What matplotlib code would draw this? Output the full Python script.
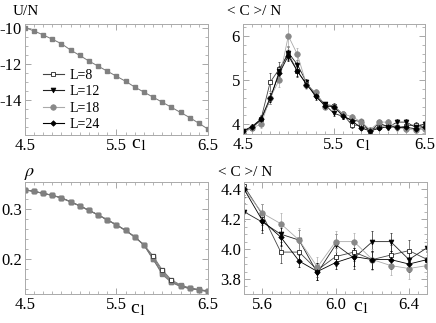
import matplotlib
matplotlib.use("Agg")
import matplotlib.pyplot as plt
from matplotlib.ticker import MultipleLocator, FixedLocator
from matplotlib.lines import Line2D

plt.rcParams['font.family'] = ['Liberation Serif', 'DejaVu Serif']
plt.rcParams['mathtext.fontset'] = 'stix'
plt.rcParams['font.size'] = 10

# coupling values
c1 = [4.5, 4.6, 4.7, 4.8, 4.9, 5.0, 5.1, 5.2, 5.3, 5.4, 5.5,
      5.6, 5.7, 5.8, 5.9, 6.0, 6.1, 6.2, 6.3, 6.4, 6.5]

# energy per site (all sizes overlap)
u_n = [-10.0, -10.19, -10.41, -10.65, -10.90, -11.25, -11.55, -11.86, -12.14, -12.42, -12.70,
       -12.98, -13.30, -13.58, -13.86, -14.14, -14.42, -14.71, -14.99, -15.31, -15.63]

# density for each size
rho_8 = [0.338, 0.335, 0.331, 0.327, 0.322, 0.314, 0.306, 0.297, 0.288, 0.278, 0.268,
         0.257, 0.244, 0.228, 0.206, 0.178, 0.158, 0.148, 0.142, 0.139, 0.136]
rho_12 = [0.338, 0.335, 0.331, 0.327, 0.322, 0.314, 0.306, 0.297, 0.288, 0.278, 0.268,
          0.257, 0.244, 0.228, 0.203, 0.175, 0.156, 0.146, 0.141, 0.138, 0.135]
rho_18 = [0.338, 0.335, 0.331, 0.327, 0.322, 0.314, 0.306, 0.297, 0.288, 0.278, 0.268,
          0.257, 0.244, 0.228, 0.200, 0.169, 0.153, 0.145, 0.141, 0.138, 0.135]
rho_24 = [0.338, 0.335, 0.331, 0.327, 0.322, 0.314, 0.306, 0.297, 0.288, 0.278, 0.268,
          0.257, 0.244, 0.228, 0.199, 0.172, 0.154, 0.145, 0.141, 0.138, 0.135]

# <C>/N and error bars for each size
c_8 = [3.82, 3.92, 4.12, 4.95, 5.25, 5.60, 5.20, 4.92, 4.70, 4.45, 4.42,
       4.23, 3.98, 3.98, 3.86, 3.95, 3.98, 3.93, 3.96, 3.99, 3.93]
e_8 = [0.05, 0.05, 0.08, 0.20, 0.15, 0.15, 0.12, 0.08, 0.07, 0.06, 0.06,
       0.07, 0.07, 0.06, 0.05, 0.06, 0.06, 0.06, 0.07, 0.07, 0.06]
c_12 = [3.85, 3.92, 4.10, 4.55, 5.20, 5.62, 5.35, 4.95, 4.62, 4.45, 4.25,
        4.18, 4.10, 4.06, 3.84, 4.03, 3.94, 4.05, 4.05, 3.93, 4.01]
e_12 = [0.05, 0.05, 0.08, 0.10, 0.12, 0.15, 0.10, 0.08, 0.06, 0.06, 0.06,
        0.07, 0.07, 0.07, 0.05, 0.07, 0.07, 0.07, 0.06, 0.06, 0.06]
c_18 = [3.80, 3.92, 4.00, 4.60, 5.00, 6.00, 5.58, 4.90, 4.72, 4.40, 4.40,
        4.24, 4.17, 4.06, 3.88, 4.05, 4.05, 3.93, 3.89, 3.87, 3.89]
e_18 = [0.06, 0.06, 0.08, 0.15, 0.15, 0.30, 0.15, 0.10, 0.07, 0.06, 0.06,
        0.06, 0.07, 0.08, 0.07, 0.07, 0.06, 0.07, 0.06, 0.07, 0.07]
c_24 = [3.85, 3.95, 4.12, 4.60, 5.15, 5.55, 5.20, 4.90, 4.65, 4.42, 4.40,
        4.19, 4.08, 3.92, 3.85, 3.91, 3.95, 3.93, 3.93, 3.90, 3.93]
e_24 = [0.05, 0.05, 0.07, 0.10, 0.12, 0.12, 0.10, 0.07, 0.06, 0.05, 0.05,
        0.06, 0.06, 0.04, 0.06, 0.04, 0.06, 0.06, 0.06, 0.05, 0.05]

sizes = ['L=8', 'L=12', 'L=18', 'L=24']
styles = [dict(marker='s', mfc='white', mec='#222222', color='#444444', ms=3, mew=0.6),
          dict(marker='v', mfc='black', mec='black', color='#222222', ms=3.5, mew=0.5),
          dict(marker='o', mfc='#888888', mec='#888888', color='#aaaaaa', ms=4, mew=0.5),
          dict(marker='D', mfc='black', mec='black', color='#000000', ms=2.8, mew=0.5)]

fig = plt.figure(figsize=(4.36, 3.23), dpi=100)
ax1 = fig.add_axes([0.057, 0.582, 0.42, 0.344])
ax2 = fig.add_axes([0.557, 0.585, 0.417, 0.341])
ax3 = fig.add_axes([0.057, 0.09, 0.42, 0.347])
ax4 = fig.add_axes([0.56, 0.09, 0.42, 0.347])


def frame(ax):
    ax.tick_params(which='both', direction='in', top=True, right=True,
                   colors='#999999', labelcolor='black', labelsize=12, pad=2)
    ax.tick_params(which='major', length=4, width=0.6)
    ax.tick_params(which='minor', length=2, width=0.5)
    for s in ax.spines.values():
        s.set_color('#aaaaaa')
        s.set_linewidth(0.7)


# U/N
ax1.plot(c1, u_n, color='#777777', lw=0.7, marker='s', ms=3.2,
         mfc='#808080', mec='#808080')
ax1.set_xlim(4.5, 6.5)
ax1.set_ylim(-15.96, -9.8)
ax1.xaxis.set_major_locator(FixedLocator([4.5, 5.5, 6.5]))
ax1.xaxis.set_minor_locator(MultipleLocator(0.1))
ax1.yaxis.set_major_locator(FixedLocator([-10, -12, -14]))
ax1.yaxis.set_minor_locator(MultipleLocator(0.5))
ax1.set_yticklabels(['-10', '-12', '-14'])
frame(ax1)
handles = [Line2D([], [], lw=0.8, **st) for st in styles]
ax1.legend(handles, sizes, loc='upper left', bbox_to_anchor=(0.06, 0.66),
           frameon=False, fontsize=10, handlelength=1.5, handletextpad=0.4,
           labelspacing=0.25, borderpad=0)

# <C>/N full range
cs = [c_8, c_12, c_18, c_24]
es = [e_8, e_12, e_18, e_24]
for c, e, st in zip(cs, es, styles):
    ax2.errorbar(c1, c, yerr=e, lw=0.6, elinewidth=0.5, capsize=1.0,
                 ecolor=st['color'], **st)
ax2.set_xlim(4.5, 6.5)
ax2.set_ylim(3.78, 6.27)
ax2.xaxis.set_major_locator(FixedLocator([4.5, 5.5, 6.5]))
ax2.xaxis.set_minor_locator(MultipleLocator(0.1))
ax2.yaxis.set_major_locator(FixedLocator([4, 5, 6]))
ax2.yaxis.set_minor_locator(MultipleLocator(0.2))
frame(ax2)

# density
for r, st in zip([rho_8, rho_12, rho_18, rho_24], styles):
    ax3.plot(c1, r, lw=0.7, color='#777777', marker='s', ms=3.2,
             mfc='#808080', mec='#808080')
ax3.plot(c1[14:17], rho_8[14:17], lw=0, marker='s', ms=3, mfc='white',
         mec='#333333', mew=0.6)
ax3.set_xlim(4.5, 6.5)
ax3.set_ylim(0.13, 0.354)
ax3.xaxis.set_major_locator(FixedLocator([4.5, 5.5, 6.5]))
ax3.xaxis.set_minor_locator(MultipleLocator(0.1))
ax3.yaxis.set_major_locator(FixedLocator([0.2, 0.3]))
ax3.yaxis.set_minor_locator(MultipleLocator(0.02))
frame(ax3)

# <C>/N zoom
for c, e, st in zip(cs, es, styles):
    ax4.errorbar(c1[10:], c[10:], yerr=e[10:], lw=0.6, elinewidth=0.5,
                 capsize=1.0, ecolor=st['color'], **st)
ax4.set_xlim(5.5, 6.5)
ax4.set_ylim(3.70, 4.45)
ax4.xaxis.set_major_locator(FixedLocator([5.6, 6.0, 6.4]))
ax4.xaxis.set_minor_locator(MultipleLocator(0.05))
ax4.yaxis.set_major_locator(FixedLocator([3.8, 4.0, 4.2, 4.4]))
ax4.yaxis.set_minor_locator(MultipleLocator(0.05))
frame(ax4)

# axis labels placed like the original
fig.text(0.03, 0.955, 'U/N', fontsize=11)
fig.text(0.52, 0.955, '< C >/ N', fontsize=11)
fig.text(0.055, 0.455, r'$\rho$', fontsize=13)
fig.text(0.50, 0.455, '< C >/ N', fontsize=11)
for x, y in [(0.30, 0.54), (0.815, 0.54), (0.298, 0.03), (0.81, 0.035)]:
    fig.text(x, y, r'c$_1$', fontsize=14)

fig.savefig('out.png', dpi=100)
